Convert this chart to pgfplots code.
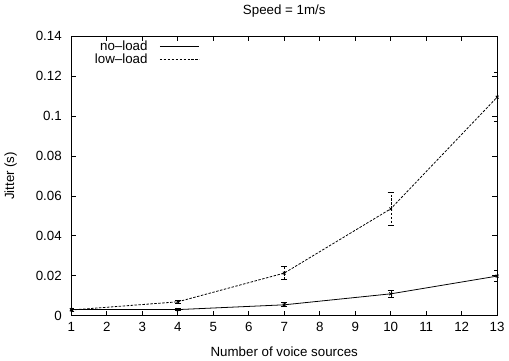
\documentclass[border=0pt]{standalone}
\usepackage{pgfplots}
\pgfplotsset{compat=1.18}
\usepackage{fontspec}
\setmainfont{Liberation Sans}
\begin{document}
\fontsize{13.5}{15}\selectfont
\begin{tikzpicture}
\begin{axis}[
  scale only axis,
  width=430bp, height=282bp,
  xmin=1, xmax=13, ymin=0, ymax=0.14,
  xtick={1,2,...,13},
  ytick={0,0.02,0.04,0.06,0.08,0.1,0.12,0.14},
  yticklabels={0,0.02,0.04,0.06,0.08,0.1,0.12,0.14},
  /pgf/number format/assume math mode=true,
  tick align=inside,
  major tick length=5bp,
  axis line style={line width=0.9bp},
  every tick/.style={black, line width=0.8bp},
  yticklabel style={xshift=-5bp},
  xticklabel style={yshift=-2bp},
  title={Speed = 1m/s},
  title style={yshift=9bp},
  xlabel={Number of voice sources},
  ylabel={Jitter (s)},
  xlabel style={yshift=-6bp},
  ylabel style={yshift=10bp},
  legend style={at={(rel axis cs:0.048,0.995)}, anchor=north west, draw=none, fill=none,
    font=\fontsize{13.5}{14}\selectfont, row sep=-3bp, column sep=10bp, inner sep=1bp},
  legend cell align=right,
  legend plot pos=right,
  legend image code/.code={\draw[#1] (0bp,0bp) -- (40bp,0bp);},
]
\addplot[black, line width=0.8bp, mark=x, mark size=2bp,
  error bars/.cd, y dir=both, y explicit, error mark options={rotate=90, mark size=3bp, line width=0.8bp}]
  coordinates {
  (1,0.003) +- (0,0.0008)
  (4,0.003) +- (0,0.0006)
  (7,0.0054) +- (0,0.001)
  (10,0.0109) +- (0,0.0016)
  (13,0.0198) +- (0,0.0029)
};
\addlegendentry{no--load}
\addplot[black, line width=0.8bp, dash pattern=on 2.5bp off 1.5bp, mark=x, mark size=2bp, mark options={solid},
  error bars/.cd, y dir=both, y explicit, error bar style={dash pattern=on 2.5bp off 1.5bp}, error mark options={rotate=90, mark size=3bp, line width=0.8bp, solid}]
  coordinates {
  (1,0.0028) +- (0,0.0006)
  (4,0.0069) +- (0,0.0009)
  (7,0.0213) +- (0,0.0033)
  (10,0.0535) +- (0,0.0083)
  (13,0.1095) +- (0,0.0124)
};
\addlegendentry{low--load}
\end{axis}
\end{tikzpicture}
\end{document}
